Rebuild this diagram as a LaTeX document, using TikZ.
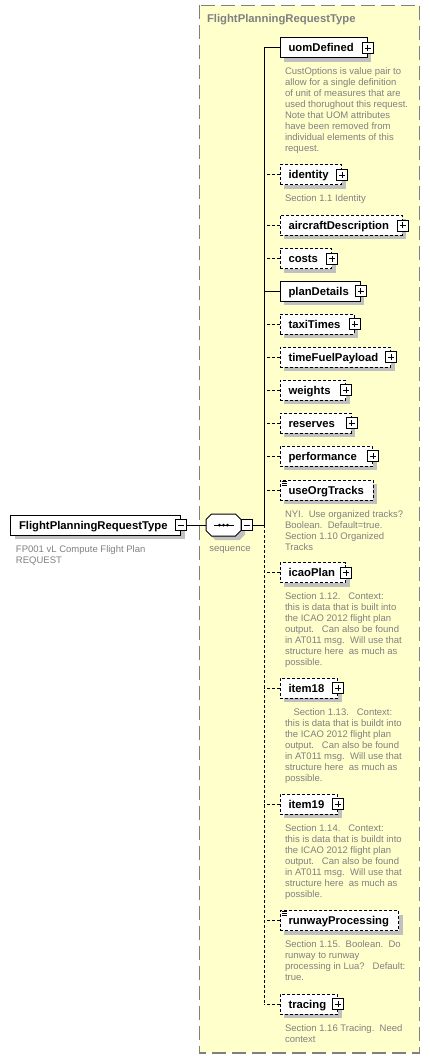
\documentclass[tikz,border=0pt]{standalone}
\usepackage{fontspec}
\setmainfont{Liberation Sans}
\usetikzlibrary{shadows}
\frenchspacing
\definecolor{panelfill}{RGB}{255,255,204}
\definecolor{panelline}{RGB}{128,128,128}
\definecolor{cmtgray}{RGB}{128,128,128}
\definecolor{shadowgray}{RGB}{192,192,192}
% #1 name, #2 label, #3 y centre, #4 box width, #5 extra style
\newcommand{\elembox}[5]{%
  \node[elem,#5,anchor=west] (#1) at (279.5,#3) {\makebox[\dimexpr#4pt-17pt\relax][l]{#2}};}
\newcommand{\pbox}[1]{\node[plusbox] (#1p) at (#1.east) {};}
\newcommand{\simpleicon}[1]{%
  \foreach \k in {1.5,3.5,5.5}{\draw[line width=0.7pt] ([xshift=2pt,yshift=-\k pt]#1.north west) -- ++(5,0);}}
\newcommand{\cmtnode}[2]{\node[cmt] (#1c) at ([xshift=5pt,yshift=-8pt]#1.south west) {\rule{0pt}{8pt}#2};}
\newcommand{\seqoutline}{(206,519.5) -- (211.5,514) -- (235.5,514) -- (241,519.5) -- (241,530.5) -- (235.5,536) -- (211.5,536) -- (206,530.5) -- cycle}
\begin{document}
\begin{tikzpicture}[x=1pt,y=-1pt,line width=1pt,
  elem/.style={draw=black, fill=white, line width=1pt, minimum height=20pt,
    inner xsep=8.5pt, inner ysep=0pt, text height=9.5pt, text depth=1.5pt,
    font=\fontsize{11.3}{13}\selectfont\bfseries,
    drop shadow={shadow xshift=4pt, shadow yshift=-4pt, fill=shadowgray, draw=none, opacity=1}},
  optbox/.style={dash pattern=on 3pt off 2pt},
  optline/.style={dash pattern=on 3pt off 2pt},
  pmbox/.style={rectangle, draw=black, fill=white, line width=0.9pt, minimum size=11pt, inner sep=0pt},
  plusbox/.style={pmbox, path picture={
    \draw[line width=0.9pt,black] ([xshift=2.5pt]path picture bounding box.west) -- ([xshift=-2.5pt]path picture bounding box.east);
    \draw[line width=0.9pt,black] ([yshift=2.5pt]path picture bounding box.south) -- ([yshift=-2.5pt]path picture bounding box.north);}},
  minusbox/.style={pmbox, path picture={
    \draw[line width=0.9pt,black] ([xshift=2.5pt]path picture bounding box.west) -- ([xshift=-2.5pt]path picture bounding box.east);}},
  cmt/.style={anchor=north west, inner sep=0pt, align=left, text=cmtgray,
    font=\fontsize{9.5}{11}\selectfont},
  paneltitle/.style={anchor=base west, inner sep=0pt, text=panelline, font=\fontsize{11.3}{13}\selectfont\bfseries}
]
\useasboundingbox (0,0) rectangle (430,1059);
% panel
\draw[fill=panelfill, draw=panelline, line width=1.5pt, dash pattern=on 14pt off 6pt] (199.5,5.5) rectangle (419.5,1053);
\node[paneltitle] (ptitle) at (206.5,23) {FlightPlanningRequestType};

% root
\node[elem,anchor=west] (root) at (10,525) {\makebox[\dimexpr170pt-17pt\relax][l]{FlightPlanningRequestType}};
\node[minusbox] (rootm) at (root.east) {};
\node[cmt] (rootc) at ([xshift=5.5pt,yshift=-8pt]root.south west) {\rule{0pt}{8pt}FP001 vL Compute Flight Plan\\REQUEST};

% sequence compositor
\begin{scope}[shift={(4,4)}]
  \fill[shadowgray] \seqoutline;
\end{scope}
\draw[fill=white, line width=1pt] \seqoutline;
\node[inner sep=0pt, minimum width=35pt, minimum height=22pt] (seq) at (223.5,525) {};
\draw[line width=1pt] ([xshift=-10pt]seq.center) -- ([xshift=10pt]seq.center);
\foreach \d in {-4,0,4}{\fill ([xshift=\d pt]seq.center) circle (1.5pt);}
\node[minusbox] (seqm) at (246.5,525) {};
\node[anchor=base, inner sep=0pt, text=cmtgray, font=\fontsize{9.5}{11}\selectfont] (seql) at (230,551) {sequence};
\coordinate (sj) at (264,525);

% children
\elembox{uomDefined}{uomDefined}{48}{87}{}
\pbox{uomDefined}
\cmtnode{uomDefined}{CustOptions is value pair to\\allow for a single definition\\of unit of measures that are\\used thorughout this request.\\Note that UOM attributes\\have been removed from\\individual elements of this\\request.}

\elembox{identity}{identity}{175}{61.5}{optbox}
\pbox{identity}
\cmtnode{identity}{Section 1.1 Identity}

\elembox{aircraftDescription}{aircraftDescription}{225.5}{122}{optbox}
\pbox{aircraftDescription}

\elembox{costs}{costs}{258.5}{51.5}{optbox}
\pbox{costs}

\elembox{planDetails}{planDetails}{291.3}{80}{}
\pbox{planDetails}

\elembox{taxiTimes}{taxiTimes}{324}{74}{optbox}
\pbox{taxiTimes}

\elembox{timeFuelPayload}{timeFuelPayload}{357}{110.5}{optbox}
\pbox{timeFuelPayload}

\elembox{weights}{weights}{390}{65.5}{optbox}
\pbox{weights}

\elembox{reserves}{reserves}{423}{71}{optbox}
\pbox{reserves}

\elembox{performance}{performance}{456}{92.5}{optbox}
\pbox{performance}

\elembox{useOrgTracks}{useOrgTracks}{490}{93}{optbox}
\simpleicon{useOrgTracks}
\cmtnode{useOrgTracks}{NYI.\ \ Use organized tracks?\\Boolean.\ \ Default=true.\\Section 1.10 Organized\\Tracks}

\elembox{icaoPlan}{icaoPlan}{572.7}{65.5}{optbox}
\pbox{icaoPlan}
\cmtnode{icaoPlan}{Section 1.12.\ \ \ Context:\\this is data that is built into\\the ICAO 2012 flight plan\\output.\ \ \ Can also be found\\in AT011 msg.\ \ Will use that\\structure here\ \ as much as\\possible.}

\elembox{item18}{item18}{688}{57.5}{optbox}
\pbox{item18}
\cmtnode{item18}{\hspace*{8.5pt}Section 1.13.\ \ \ Context:\\this is data that is buildt into\\the ICAO 2012 flight plan\\output.\ \ \ Can also be found\\in AT011 msg.\ \ Will use that\\structure here\ \ as much as\\possible.}

\elembox{item19}{item19}{804.3}{57.5}{optbox}
\pbox{item19}
\cmtnode{item19}{Section 1.14.\ \ \ Context:\\this is data that is buildt into\\the ICAO 2012 flight plan\\output.\ \ \ Can also be found\\in AT011 msg.\ \ Will use that\\structure here\ \ as much as\\possible.}

\elembox{runwayProcessing}{runwayProcessing}{920.7}{118.5}{optbox}
\simpleicon{runwayProcessing}
\cmtnode{runwayProcessing}{Section 1.15.\ \ Boolean.\ \ Do\\runway to runway\\processing in Lua?\ \ \ Default:\\true.}

\elembox{tracing}{tracing}{1004}{57.5}{optbox}
\pbox{tracing}
\cmtnode{tracing}{Section 1.16 Tracing.\ \ Need\\context}

% connectors
\draw (rootm.east) -- (seq.west);
\draw (seqm.east) -- (sj);
\draw (uomDefined.west -| sj) -- (sj);
\draw[optline] (sj) -- (tracing.west -| sj);
\draw (uomDefined.west) -- (uomDefined.west -| sj);
\draw (planDetails.west) -- (planDetails.west -| sj);
\foreach \n in {identity,aircraftDescription,costs,taxiTimes,timeFuelPayload,weights,reserves,performance,useOrgTracks,icaoPlan,item18,item19,runwayProcessing,tracing}{
  \draw[optline] (\n.west) -- (\n.west -| sj);
}
\end{tikzpicture}
\end{document}
